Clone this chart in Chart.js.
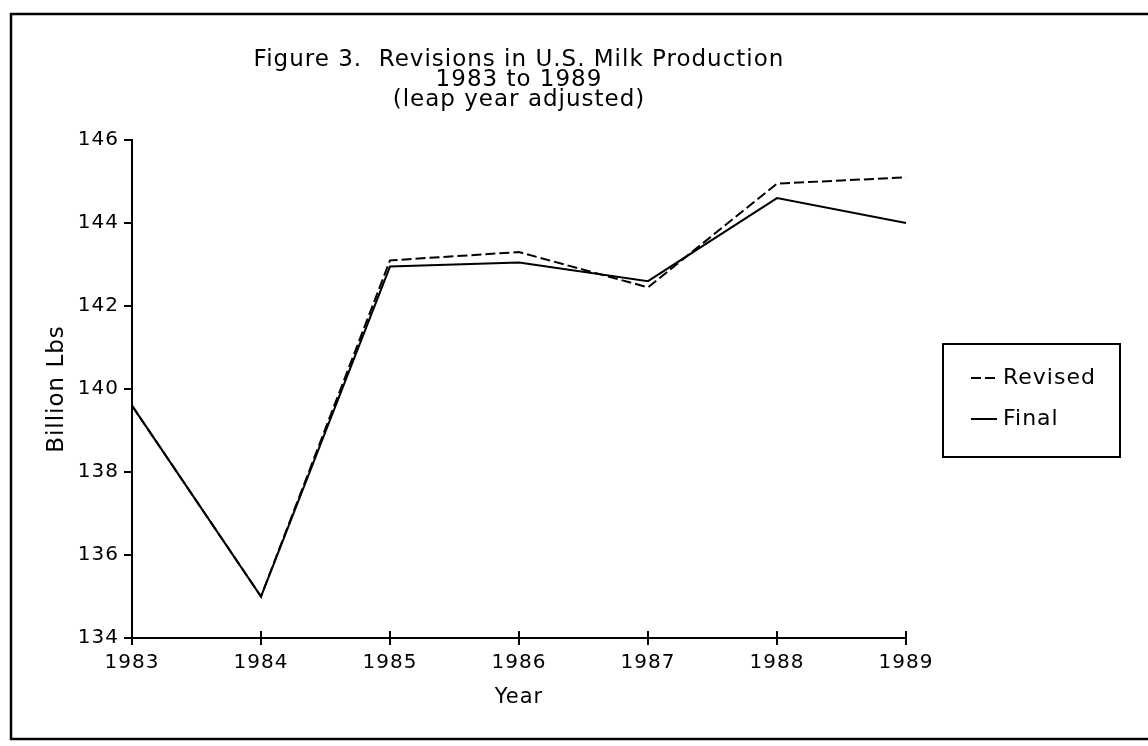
<!DOCTYPE html>
<html>
<head>
<meta charset="utf-8">
<script src="https://cdn.jsdelivr.net/npm/chart.js@4.4.1/dist/chart.umd.min.js"></script>
<style>
  html, body { margin: 0; padding: 0; background: #fff; }
  canvas { display: block; }
</style>
</head>
<body>
<canvas id="milk" width="1148" height="746"></canvas>
<script>
// values (billion lbs)
const years = ["1983", "1984", "1985", "1986", "1987", "1988", "1989"];
const revised = [139.6, 135.0, 143.1, 143.3, 142.45, 144.95, 145.1];
const final = [139.6, 135.0, 142.95, 143.05, 142.6, 144.6, 144.0];
const yMin = 134, yMax = 146, yStep = 2;
const titleLines = ["Figure 3.  Revisions in U.S. Milk Production", "1983 to 1989", "(leap year adjusted)"];

const FONT = "'DejaVu Sans', sans-serif";
const ink = "#000";

// the old plotter font is a bit wider than DejaVu, so open the letters up slightly
const spacing = {
  id: "spacing",
  beforeUpdate(chart) { chart.ctx.letterSpacing = "1px"; },
  beforeDraw(chart) { chart.ctx.letterSpacing = "1px"; }
};

// outer frame of the figure
const frame = {
  id: "frame",
  beforeDraw(chart) {
    const ctx = chart.ctx;
    ctx.save();
    ctx.fillStyle = "#fff";
    ctx.fillRect(0, 0, chart.width, chart.height);
    ctx.strokeStyle = ink;
    ctx.lineWidth = 2.5;
    ctx.strokeRect(11, 14, 1150, 725);
    ctx.restore();
  }
};

// x ticks in the original cross the axis, so add the part inside the plot
const crossTicks = {
  id: "crossTicks",
  afterDraw(chart) {
    const x = chart.scales.x, ctx = chart.ctx;
    const b = chart.chartArea.bottom;
    ctx.save();
    ctx.strokeStyle = ink;
    ctx.lineWidth = 2;
    x.ticks.forEach((t, i) => {
      const px = x.getPixelForTick(i);
      ctx.beginPath();
      ctx.moveTo(px, b);
      ctx.lineTo(px, b - 7);
      ctx.stroke();
    });
    ctx.restore();
  }
};

// boxed legend to the right of the plot
const boxLegend = {
  id: "boxLegend",
  afterDraw(chart, args, opts) {
    const ctx = chart.ctx;
    ctx.save();
    ctx.strokeStyle = ink;
    ctx.lineWidth = 2;
    ctx.strokeRect(opts.x, opts.y, opts.w, opts.h);
    ctx.font = opts.fontSize + "px " + FONT;
    ctx.fillStyle = ink;
    ctx.textBaseline = "middle";
    chart.data.datasets.forEach((ds, i) => {
      const cy = opts.firstY + i * opts.rowGap;
      ctx.setLineDash(ds.borderDash || []);
      ctx.lineWidth = ds.borderWidth;
      ctx.beginPath();
      ctx.moveTo(opts.x + 28, cy);
      ctx.lineTo(opts.x + 54, cy);
      ctx.stroke();
      ctx.setLineDash([]);
      ctx.fillText(ds.label, opts.x + 60, cy);
    });
    ctx.restore();
  }
};

new Chart(document.getElementById("milk"), {
  type: "line",
  data: {
    labels: years,
    datasets: [
      { label: "Revised", data: revised, borderColor: ink, borderWidth: 2, borderDash: [10, 4],
        pointRadius: 0, tension: 0, fill: false },
      { label: "Final", data: final, borderColor: ink, borderWidth: 2,
        pointRadius: 0, tension: 0, fill: false },
    ],
  },
  options: {
    responsive: false,
    animation: false,
    events: [],
    layout: { padding: { left: 30, right: 242, top: 0, bottom: 8 } },
    plugins: {
      legend: { display: false },
      tooltip: { enabled: false },
      title: {
        display: true, text: titleLines, fullSize: false, color: ink,
        font: { family: FONT, size: 23, weight: "normal", lineHeight: 0.87 },
        padding: { top: 50, bottom: 30 },
      },
      boxLegend: { x: 943, y: 344, w: 177, h: 113, firstY: 378, rowGap: 41, fontSize: 22 },
    },
    scales: {
      x: {
        afterFit: (s) => { s.height = 100; },
        grid: { drawOnChartArea: false, tickLength: 7, color: ink, lineWidth: 2 },
        border: { color: ink, width: 2 },
        ticks: { color: ink, padding: 6, maxRotation: 0, font: { family: FONT, size: 20 } },
        title: { display: true, text: "Year", color: ink, font: { family: FONT, size: 21 },
                 padding: { top: 0, bottom: 28 } },
      },
      y: {
        min: yMin, max: yMax,
        afterFit: (s) => { s.width = 102; },
        grid: { drawOnChartArea: false, tickLength: 8, color: ink, lineWidth: 2 },
        border: { color: ink, width: 2 },
        ticks: { stepSize: yStep, color: ink, padding: 5, font: { family: FONT, size: 20 } },
        title: { display: true, text: "Billion Lbs", color: ink, font: { family: FONT, size: 23 },
                 padding: { top: 13, bottom: 0 } },
      },
    },
  },
  plugins: [spacing, frame, crossTicks, boxLegend],
});
</script>
</body>
</html>
